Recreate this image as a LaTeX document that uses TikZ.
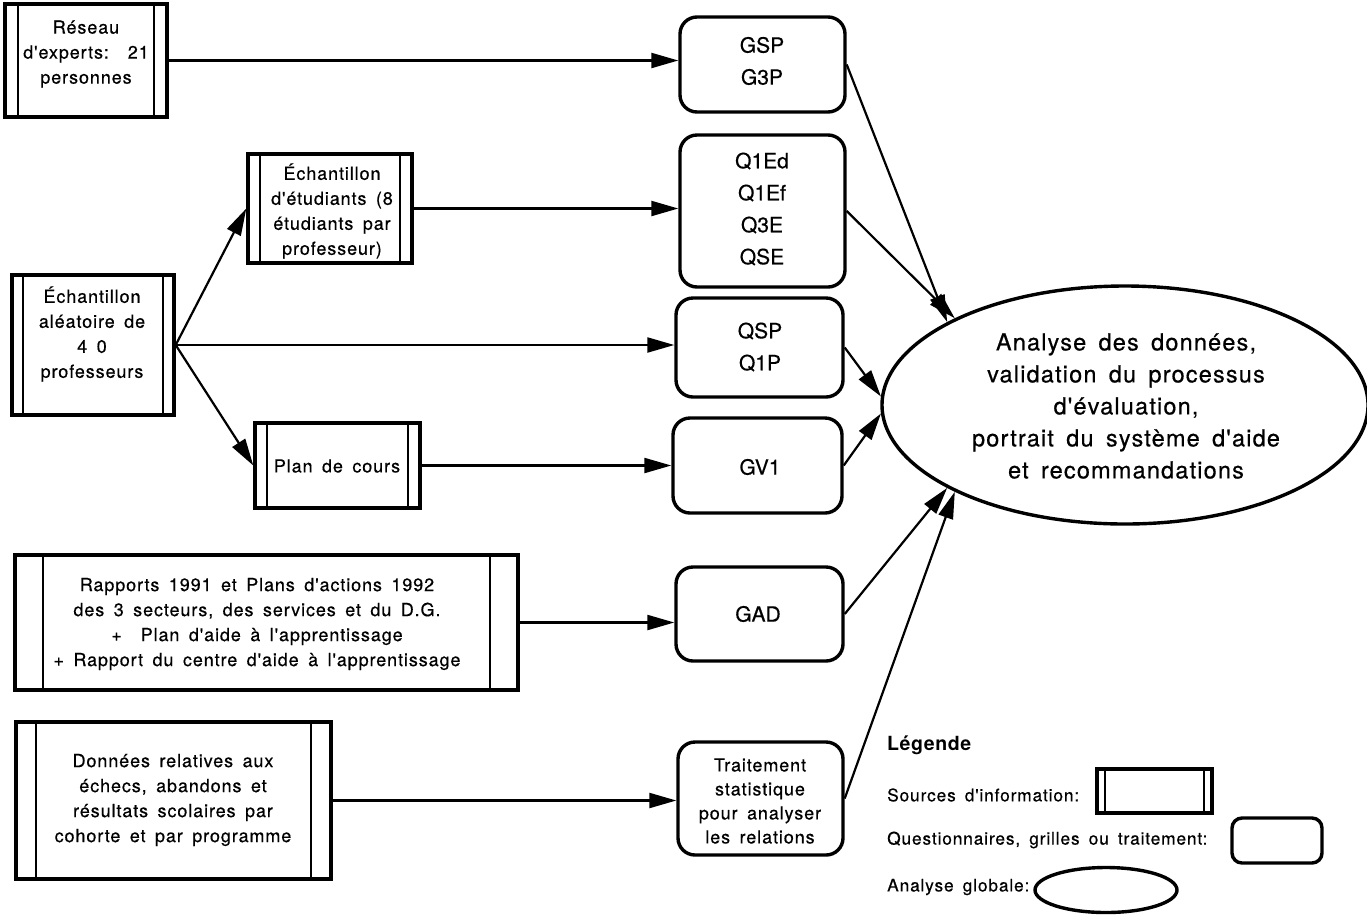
\documentclass[tikz,border=0pt]{standalone}
\usepackage{fontspec}
\setmainfont{TeX Gyre Heros}
\newfontfamily\hv[LetterSpace=5,WordSpace=1.6,Ligatures=TeXOff,FakeBold=0.5]{TeX Gyre Heros}
\newfontfamily\hvn[Ligatures=TeXOff,FakeBold=0.5]{TeX Gyre Heros}
\newfontfamily\hvb[Ligatures=TeXOff,LetterSpace=3]{TeX Gyre Heros Bold}
\usetikzlibrary{shapes.geometric,arrows.meta}
\begin{document}
\begin{tikzpicture}[x=1pt,y=-1pt,
 src/.style={draw, line width=3.4pt, inner sep=0pt, path picture={
   \draw[line width=2.6pt] ([xshift=#1]path picture bounding box.north west) -- ([xshift=#1]path picture bounding box.south west);
   \draw[line width=2.6pt] ([xshift=-#1]path picture bounding box.north east) -- ([xshift=-#1]path picture bounding box.south east);}},
 rbox/.style={draw, line width=3.4pt, rounded corners=17pt, inner sep=0pt},
 ell/.style={draw, ellipse, line width=3.4pt, inner sep=0pt},
 txt/.style={font=\hv\fontsize{18}{25}\selectfont, align=center, inner sep=0pt},
 ttxt/.style={font=\hv\fontsize{18}{24}\selectfont, align=center, inner sep=0pt},
 qtxt/.style={font=\hvn\fontsize{21}{32}\selectfont, align=center, inner sep=0pt},
 etxt/.style={font=\hv\fontsize{23.5}{32}\selectfont, align=center, inner sep=0pt},
 ltxt/.style={font=\hv\fontsize{17.3}{20}\selectfont, inner sep=0pt, anchor=west},
 conn/.style={line width=2.2pt, -{Triangle[length=27pt,width=15pt]}},
]
\useasboundingbox (0,0) rectangle (1367,914);

% sources
\node[src=13pt, minimum width=162pt, minimum height=113pt] (reseau) at (86,60.5) {};
\node[txt] (reseauT) at (86,54) {Réseau\\d'experts:~~21\\personnes};
\node[src=12pt, minimum width=164pt, minimum height=109pt] (etud) at (330,208.5) {};
\node[txt] (etudT) at (332,211) {Échantillon\\d'étudiants (8\\étudiants par\\professeur)};
\node[src=11pt, minimum width=162pt, minimum height=140pt] (aleat) at (93,345) {};
\node[txt] (aleatT) at (92,334) {Échantillon\\aléatoire de\\4~0\\professeurs};
\node[src=12pt, minimum width=165pt, minimum height=85pt] (plan) at (337.5,465.5) {};
\node[txt] (planT) at (337,466) {Plan de cours};
\node[src=28pt, minimum width=503pt, minimum height=135pt] (rapp) at (266.5,622.5) {};
\node[txt] (rappT) at (257,624) {Rapports 1991 et Plans d'actions 1992\\des 3 secteurs, des services et du D.G.\\+~~Plan d'aide à l'apprentissage\\+ Rapport du centre d'aide à l'apprentissage};
\node[src=20pt, minimum width=315pt, minimum height=157pt] (donn) at (173.5,800.5) {};
\node[txt] (donnT) at (173,800) {Données relatives aux\\échecs, abandons et\\résultats scolaires par\\cohorte et par programme};

% questionnaires
\node[rbox, minimum width=165pt, minimum height=95pt] (gsp) at (762.5,64.5) {};
\node[qtxt] (gspT) at (762,61) {GSP\\G3P};
\node[rbox, minimum width=165pt, minimum height=152pt] (q1) at (762.5,211) {};
\node[qtxt] (q1T) at (762,209) {Q1Ed\\Q1Ef\\Q3E\\QSE};
\node[rbox, minimum width=167pt, minimum height=99pt] (qsp) at (759.5,347.5) {};
\node[qtxt] (qspT) at (760,347) {QSP\\Q1P};
\node[rbox, minimum width=169pt, minimum height=95pt] (gv1) at (757.5,465.5) {};
\node[qtxt] (gv1T) at (760,467) {GV1};
\node[rbox, minimum width=167pt, minimum height=94pt] (gad) at (759.5,614) {};
\node[qtxt] (gadT) at (758,614) {GAD};
\node[rbox, minimum width=165pt, minimum height=113pt] (trait) at (760.5,798.5) {};
\node[ttxt] (traitT) at (760,801) {Traitement\\statistique\\pour analyser\\les relations};

% analyse
\node[ell, minimum width=486pt, minimum height=238pt] (ana) at (1125,405) {};
\node[etxt] (anaT) at (1126,406) {Analyse des données,\\validation du processus\\d'évaluation,\hspace*{20pt}\\portrait du système d'aide\\et recommandations};

% legend
\node[font=\hvb\fontsize{19.5}{22}\selectfont, anchor=west, inner sep=0pt] (leg) at (887,745) {Légende};
\node[ltxt] (l1) at (887,795) {Sources d'information:};
\node[src=8pt, minimum width=115pt, minimum height=44pt] (l1b) at (1154.5,791) {};
\node[ltxt] (l2) at (887,840) {Questionnaires, grilles ou traitement:};
\node[rbox, rounded corners=10pt, minimum width=90pt, minimum height=45pt] (l2b) at (1277,840.5) {};
\node[ltxt] (l3) at (887,887) {Analyse globale:};
\node[ell, minimum width=142pt, minimum height=45pt] (l3b) at (1106,890) {};

% connectors
\draw[conn] (reseau.east) -- (reseau.east -| gsp.west);
\draw[conn] (etud.east) -- (etud.east -| q1.west);
\draw[conn] (aleat.east) -- (etud.west);
\draw[conn] (aleat.east) -- (aleat.east -| qsp.west);
\draw[conn] (aleat.east) -- (plan.west);
\draw[conn] (plan.east) -- (plan.east -| gv1.west);
\draw[conn] (rapp.east) -- (rapp.east -| gad.west);
\draw[conn] (donn.east) -- (donn.east -| trait.west);
\draw[conn] (gsp.east) -- (ana.155);
\draw[conn] (q1.east) -- (ana.153);
\draw[conn] (qsp.east) -- (ana.178);
\draw[conn] (gv1.east) -- (ana.182);
\draw[conn] (gad.east) -- (ana.205);
\draw[conn] (trait.east) -- (ana.207);
\end{tikzpicture}
\end{document}
